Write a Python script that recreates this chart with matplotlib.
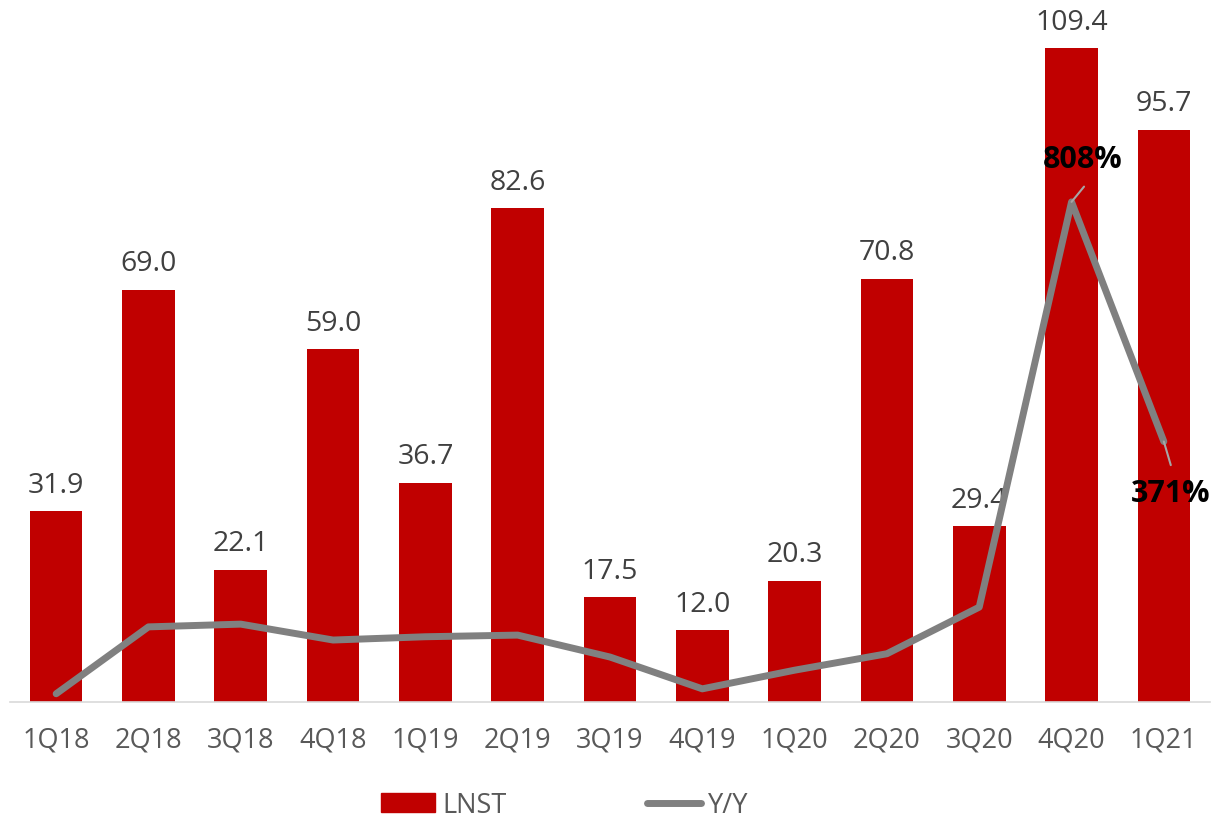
import numpy as np
from matplotlib import pyplot as plt
from matplotlib import patches as mpatches
from matplotlib.lines import Line2D

# quarters and values
quarters = ["1Q18", "2Q18", "3Q18", "4Q18", "1Q19", "2Q19", "3Q19",
            "4Q19", "1Q20", "2Q20", "3Q20", "4Q20", "1Q21"]
lnst = [31.9, 69.0, 22.1, 59.0, 36.7, 82.6, 17.5, 12.0, 20.3, 70.8, 29.4, 109.4, 95.7]
yoy = [-89, 33, 38, 9, 15, 18, -22, -80, -46, -16, 69, 808, 371]

plt.rcParams["font.family"] = ["Open Sans", "DejaVu Sans"]

bar_color = "#C00000"
line_color = "#808080"

# create figure
fig = plt.figure(figsize=(12.29, 8.29), dpi=100)
ax = fig.add_axes([10 / 1229, 126 / 829, 1200 / 1229, 703 / 829])
ax2 = ax.twinx()

x = np.arange(len(quarters))

# bars
bars = ax.bar(x, lnst, width=0.57, color=bar_color, zorder=2)
ax.bar_label(bars, labels=["%.1f" % v for v in lnst], padding=9,
             fontsize=20.5, color="#404040")

ax.set_xlim(-0.5, 12.5)
ax.set_ylim(0, 117.6)
ax.set_xticks(x)
ax.set_xticklabels(quarters, fontsize=19.5, color="#595959")
ax.tick_params(axis="x", length=0, pad=17)
ax.set_yticks([])
for s in ["top", "right", "left"]:
    ax.spines[s].set_visible(False)
ax.spines["bottom"].set_color("#d9d9d9")
ax.spines["bottom"].set_linewidth(1.2)

# Y/Y line on secondary axis
ax2.plot(x, yoy, color=line_color, lw=5, solid_capstyle="round",
         solid_joinstyle="round", zorder=3)
ax2.set_ylim(-104, 1178)
ax2.set_yticks([])
for s in ax2.spines.values():
    s.set_visible(False)

# annotations for the last two points
ax2.annotate("808%", xy=(x[11], yoy[11]), xytext=(8, 20), textcoords="offset points",
             ha="center", va="bottom", fontsize=22, fontweight="bold", color="black")
ax2.annotate("", xy=(x[11], yoy[11]), xytext=(9, 11), textcoords="offset points",
             arrowprops=dict(arrowstyle="-", color="#a6a6a6", lw=1.5, shrinkA=0, shrinkB=0))
ax2.annotate("371%", xy=(x[12], yoy[12]), xytext=(5, -26), textcoords="offset points",
             ha="center", va="top", fontsize=22, fontweight="bold", color="black")
ax2.annotate("", xy=(x[12], yoy[12]), xytext=(5, -17), textcoords="offset points",
             arrowprops=dict(arrowstyle="-", color="#a6a6a6", lw=1.5, shrinkA=0, shrinkB=0))

# legend
handles = [
    mpatches.Patch(color=bar_color, label="LNST"),
    Line2D([0], [0], color=line_color, lw=5, solid_capstyle="round", label="Y/Y"),
]
fig.legend(handles=handles, loc="center", bbox_to_anchor=(565 / 1229, 23 / 829),
           ncol=2, frameon=False, fontsize=19.5, labelcolor="#595959",
           handlelength=2.0, handletextpad=0.25, columnspacing=5.2)

fig.savefig("out.png", dpi=100)
